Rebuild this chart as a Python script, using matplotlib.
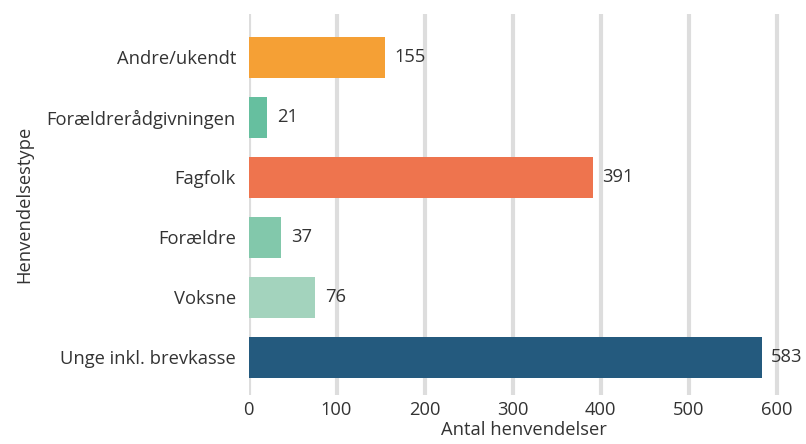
import matplotlib.pyplot as plt

plt.rcParams['font.family'] = ['Open Sans', 'DejaVu Sans']

categories = ['Unge inkl. brevkasse', 'Voksne', 'Forældre', 'Fagfolk',
              'Forældrerådgivningen', 'Andre/ukendt']
values = [583, 76, 37, 391, 21, 155]
colors = ['#245a7e', '#a3d3bd', '#82c8ab', '#ee744e', '#66bf9f', '#f5a035']
xticks = [0, 100, 200, 300, 400, 500, 600]

txt = '#333333'
fs = 13.2

fig = plt.figure(figsize=(8.06, 4.44), dpi=100)
ax = fig.add_axes([248.5 / 806, 49 / 444, 550 / 806, 381 / 444])

pos = list(range(len(categories)))
ax.barh(pos, values, height=0.68, color=colors, zorder=2)

for p, v in zip(pos, values):
    ax.text(v + 11, p, str(v), va='center', ha='left', fontsize=fs,
            color=txt)

ax.set_xlim(0, 625)
ax.set_ylim(-0.63, 5.72)
ax.set_xticks(xticks)
ax.set_yticks(pos)
ax.set_yticklabels(categories)
ax.grid(axis='x', color='#dddddd', linewidth=3, zorder=0)
ax.set_axisbelow(True)
for s in ax.spines.values():
    s.set_visible(False)
ax.tick_params(length=0, labelsize=fs, labelcolor=txt)
ax.tick_params(axis='y', pad=9)
ax.tick_params(axis='x', pad=4)

ax.set_xlabel('Antal henvendelser', fontsize=fs, color=txt, labelpad=2)
ax.set_ylabel('Henvendelsestype', fontsize=fs, color=txt, labelpad=10)

fig.savefig('out.png', dpi=100)
